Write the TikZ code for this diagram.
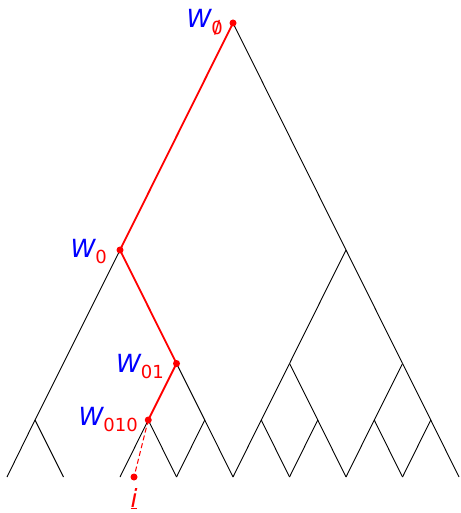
\documentclass[tikz,border=0pt]{standalone}
\usepackage{fontspec}
\setmainfont{DejaVu Sans}
\tikzset{
  edge/.style={black, line width=0.9pt},
  redge/.style={red, line width=1.8pt},
  dot/.style={circle, fill=red, inner sep=0pt, minimum size=7pt},
  wlab/.style={anchor=base east, inner sep=0pt, font=\fontsize{25}{25}\selectfont}
}
\newcommand{\Wsub}[1]{\textcolor{blue}{\itshape W}\raisebox{-6pt}{\fontsize{18}{18}\selectfont\color{red}#1}}
\newcommand{\myempty}{\raisebox{-1pt}{\ooalign{0\cr\hidewidth\raisebox{1pt}{/}\hidewidth\cr}}}
\begin{document}
\begin{tikzpicture}[x=1pt,y=-1pt]
\useasboundingbox (0,0) rectangle (460,513);
% vertices
\coordinate (r) at (233,23);
\coordinate (a) at (120,250);
\coordinate (b) at (346,250);
\coordinate (aL) at (35,420);
\coordinate (aR) at (176.5,363.5);
\coordinate (aRL) at (148.25,420);
\coordinate (aRR) at (204.75,420);
\coordinate (bL) at (289.5,363.5);
\coordinate (bR) at (402.5,363.5);
\coordinate (bLL) at (261.25,420);
\coordinate (bLR) at (317.75,420);
\coordinate (bRL) at (374.25,420);
\coordinate (bRR) at (430.75,420);
\coordinate (l0) at (7,477);
\coordinate (l1) at (63.5,477);
\coordinate (l2) at (120,477);
\coordinate (l3) at (176.5,477);
\coordinate (l4) at (233,477);
\coordinate (l5) at (289.5,477);
\coordinate (l6) at (346,477);
\coordinate (l7) at (402.5,477);
\coordinate (l8) at (459,477);
\coordinate (ii) at (134,477);
% black edges
\draw[edge] (r) -- (b);
\draw[edge] (a) -- (aL);
\draw[edge] (aL) -- (l0);
\draw[edge] (aL) -- (l1);
\draw[edge] (aR) -- (aRR);
\draw[edge] (aRL) -- (l2);
\draw[edge] (aRL) -- (l3);
\draw[edge] (aRR) -- (l3);
\draw[edge] (aRR) -- (l4);
\draw[edge] (b) -- (bL);
\draw[edge] (b) -- (bR);
\draw[edge] (bL) -- (bLL);
\draw[edge] (bL) -- (bLR);
\draw[edge] (bR) -- (bRL);
\draw[edge] (bR) -- (bRR);
\draw[edge] (bLL) -- (l4);
\draw[edge] (bLL) -- (l5);
\draw[edge] (bLR) -- (l5);
\draw[edge] (bLR) -- (l6);
\draw[edge] (bRL) -- (l6);
\draw[edge] (bRL) -- (l7);
\draw[edge] (bRR) -- (l7);
\draw[edge] (bRR) -- (l8);
% red path
\draw[redge] (r) -- (a) -- (aR) -- (aRL);
\draw[red, line width=1pt, dash pattern=on 5pt off 3pt] (aRL) -- (ii);
% dots
\node[dot] (dr) at (r) {};
\node[dot] (da) at (a) {};
\node[dot] (daR) at (aR) {};
\node[dot] (daRL) at (aRL) {};
\node[dot] (dii) at (ii) {};
% labels
\node[wlab] (tr) at (223,28) {\Wsub{\myempty}};
\node[wlab] (ta) at (107,257) {\Wsub{0}};
\node[wlab] (taR) at (164,372) {\Wsub{01}};
\node[wlab] (taRL) at (138,425) {\Wsub{010}};
\node[anchor=base, inner sep=0pt, font=\fontsize{25}{25}\selectfont, text=red] (ti) at (134,507) {\underline{\itshape i}};
\end{tikzpicture}
\end{document}
